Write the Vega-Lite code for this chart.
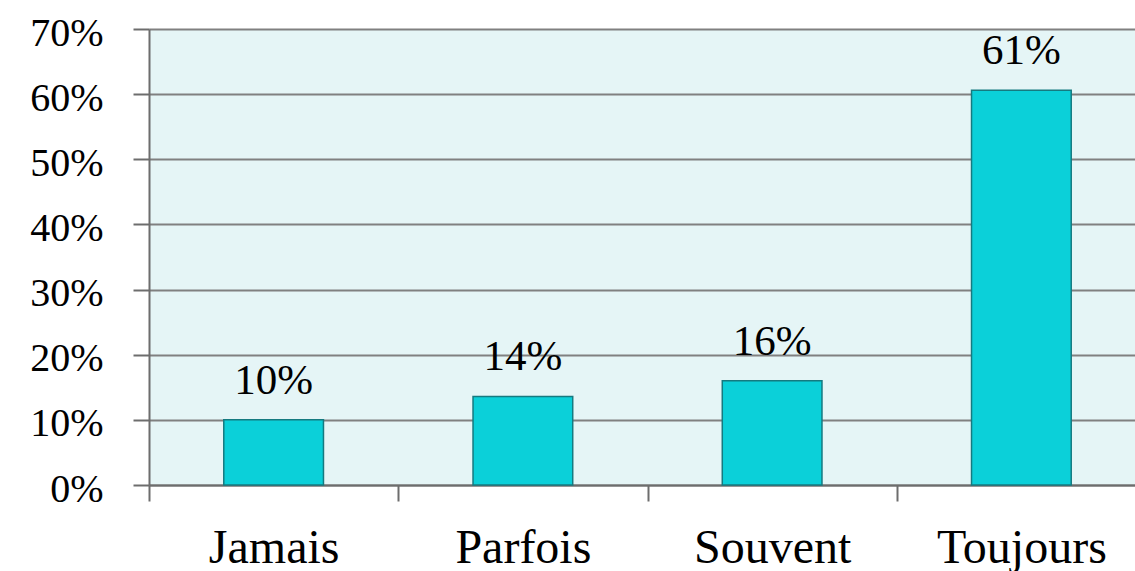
{
  "$schema": "https://vega.github.io/schema/vega-lite/v6.json",
  "autosize": {"type": "none"},
  "padding": {"left": 149, "top": 29, "right": 0, "bottom": 86},
  "width": 997,
  "height": 456,
  "background": "white",
  "config": {
    "view": {"fill": "#e5f5f6", "stroke": null},
    "font": "Liberation Serif"
  },
  "data": {
    "values": [
      {"categorie": "Jamais", "part": 0.10},
      {"categorie": "Parfois", "part": 0.136},
      {"categorie": "Souvent", "part": 0.16},
      {"categorie": "Toujours", "part": 0.606}
    ]
  },
  "encoding": {
    "x": {
      "field": "categorie",
      "type": "nominal",
      "sort": null,
      "scale": {"paddingInner": 0, "paddingOuter": 0},
      "axis": {
        "title": null,
        "labelAngle": 0,
        "labelFontSize": 48,
        "labelColor": "black",
        "labelPadding": 23,
        "tickBand": "extent",
        "tickSize": 16,
        "tickColor": "#6d6d6d",
        "tickWidth": 2,
        "domainColor": "#6d6d6d",
        "domainWidth": 2,
        "grid": false
      }
    },
    "y": {
      "field": "part",
      "type": "quantitative",
      "scale": {"domain": [0, 0.7], "nice": false},
      "axis": {
        "title": null,
        "format": ".0%",
        "values": [0, 0.1, 0.2, 0.3, 0.4, 0.5, 0.6, 0.7],
        "labelFontSize": 40,
        "labelColor": "black",
        "labelPadding": 30,
        "labelOffset": 4,
        "tickSize": 16,
        "tickColor": "#6d6d6d",
        "tickWidth": 2,
        "domainColor": "#6d6d6d",
        "domainWidth": 2,
        "grid": true,
        "gridColor": "#808080",
        "gridWidth": 2
      }
    }
  },
  "layer": [
    {
      "mark": {"type": "bar", "width": {"band": 0.4}, "fill": "#0bd0d9", "stroke": "#157a80", "strokeWidth": 1.5}
    },
    {
      "mark": {"type": "text", "fontSize": 43, "baseline": "alphabetic", "dy": -26, "color": "black"},
      "encoding": {
        "text": {"field": "part", "type": "quantitative", "format": ".0%"}
      }
    }
  ]
}
